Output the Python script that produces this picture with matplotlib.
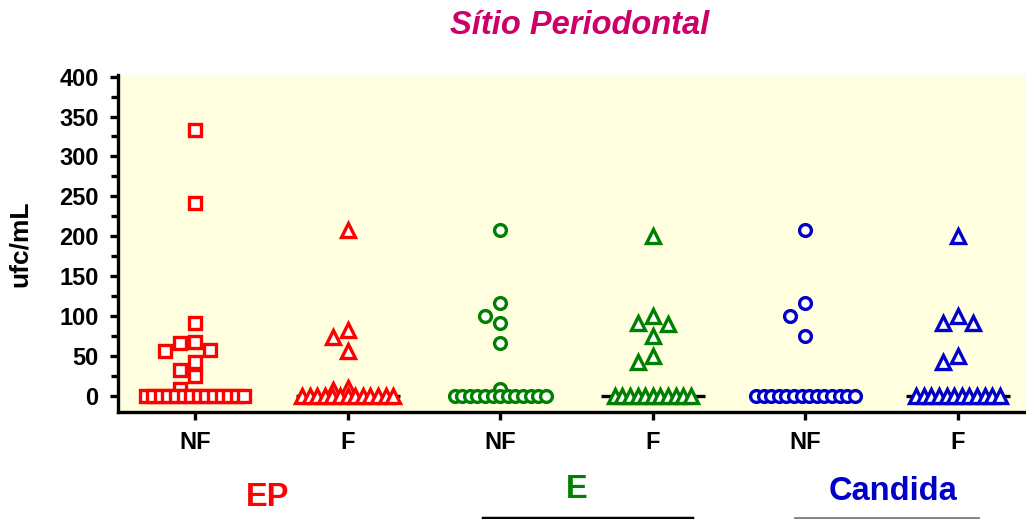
import numpy as np
import matplotlib
matplotlib.use('Agg')
import matplotlib.pyplot as plt
from matplotlib.lines import Line2D

plt.rcParams['font.family'] = ['Liberation Sans', 'DejaVu Sans']
plt.rcParams['font.weight'] = 'bold'

# ufc/mL values per group
ep_nf = [333, 242, 91, 68, 67, 58, 57, 42, 33, 25, 9] + [0] * 14
ep_f = [208, 83, 74, 57, 10, 8] + [0] * 13
e_nf = [208, 116, 100, 91, 67, 9] + [0] * 13
e_f = [200, 100, 92, 90, 75, 50, 42] + [0] * 11
c_nf = [208, 116, 100, 75] + [0] * 14
c_f = [200, 100, 91, 91, 50, 42] + [0] * 12

groups = [ep_nf, ep_f, e_nf, e_f, c_nf, c_f]
tick_labels = ['NF', 'F', 'NF', 'F', 'NF', 'F']
colors = ['#FF0000', '#FF0000', '#008000', '#008000', '#0000C8', '#0000C8']
markers = ['s', '^', 'o', '^', 'o', '^']
sizes = [8.5, 9.5, 8.5, 9.5, 8.5, 9.5]

W, H = 1026, 519
fig = plt.figure(figsize=(W / 100, H / 100), dpi=100)
ax = fig.add_axes([118 / W, 1 - 412 / H, 1 - 118 / W, (412 - 75) / H])
ax.set_facecolor('#FFFFE0')

xlim = (0.495, 6.446)
ylim = (-20, 402)
ax.set_xlim(*xlim)
ax.set_ylim(*ylim)

# pixel scales, used to lay out the swarm
px_x = (1 - 118 / W) * W / (xlim[1] - xlim[0])
px_y = (412 - 75) / (ylim[1] - ylim[0])


def swarm(vals, center):
    vals = np.asarray(vals, dtype=float)
    xs = np.zeros(len(vals))
    uniq, counts = np.unique(vals, return_counts=True)
    row_vals = uniq[counts >= 3]
    placed = []
    order = np.argsort(-vals, kind='stable')
    for v in row_vals:
        idx = np.where(vals == v)[0]
        n = len(idx)
        offs = (np.arange(n) - (n - 1) / 2) * 7.6
        xs[idx] = center + offs / px_x
    for i in order:
        v = vals[i]
        if v in row_vals:
            continue
        cands = [0]
        for j in range(1, 10):
            cands += [-j, j]
        for c in cands:
            dx = c * 15
            ok = True
            for (pdx, pv) in placed:
                if np.hypot(dx - pdx, (v - pv) * px_y) < 13.5:
                    ok = False
                    break
            if ok:
                break
        placed.append((dx, v))
        xs[i] = center + dx / px_x
    return xs


for i, vals in enumerate(groups):
    pos = i + 1
    med = np.median(vals)
    ax.plot([pos - 0.34, pos + 0.34], [med, med], color='black', lw=2.4,
            zorder=2, solid_capstyle='butt')
    xs = swarm(vals, pos)
    ax.plot(xs, vals, linestyle='none', marker=markers[i], ms=sizes[i],
            mec=colors[i], mfc='white', mew=2.4, zorder=3, clip_on=False)

ax.set_xticks(range(1, 7))
ax.set_xticklabels(tick_labels)
ax.set_yticks(np.arange(0, 401, 50))
ax.set_yticks(np.arange(25, 400, 50), minor=True)

for s in ['top', 'right']:
    ax.spines[s].set_visible(False)
for s in ['left', 'bottom']:
    ax.spines[s].set_linewidth(2.4)
    ax.spines[s].set_color('black')

ax.tick_params(axis='both', which='major', direction='out', length=6,
               width=2.4, labelsize=17)
ax.tick_params(axis='x', which='major', pad=8)
ax.tick_params(axis='y', which='major', pad=8)
ax.tick_params(axis='y', which='minor', direction='out', length=5, width=2.4)
for lab in ax.get_xticklabels() + ax.get_yticklabels():
    lab.set_fontweight('bold')

ax.set_ylabel('ufc/mL', fontsize=19, fontweight='bold')
ax.yaxis.set_label_coords(-0.095, 0.5)

fig.text(580 / W, 1 - 25 / H, 'Sítio Periodontal', color='#CC0066',
         fontsize=23.5, fontweight='bold', fontstyle='italic',
         ha='center', va='center')
fig.text(268 / W, 1 - 497 / H, 'EP', color='#FF0000', fontsize=23.5,
         fontweight='bold', ha='center', va='center')
fig.text(577 / W, 1 - 490 / H, 'E', color='#008000', fontsize=23.5,
         fontweight='bold', ha='center', va='center')
fig.text(893 / W, 1 - 492 / H, 'Candida', color='#0000C8', fontsize=23.5,
         fontweight='bold', ha='center', va='center')

# partially visible rules at the bottom edge
fig.add_artist(Line2D([483 / W, 692 / W], [1 - 518 / H, 1 - 518 / H],
                      color='black', lw=2.5))
fig.add_artist(Line2D([795 / W, 978 / W], [1 - 518 / H, 1 - 518 / H],
                      color='#808080', lw=2))

fig.savefig('out.png', dpi=100)
